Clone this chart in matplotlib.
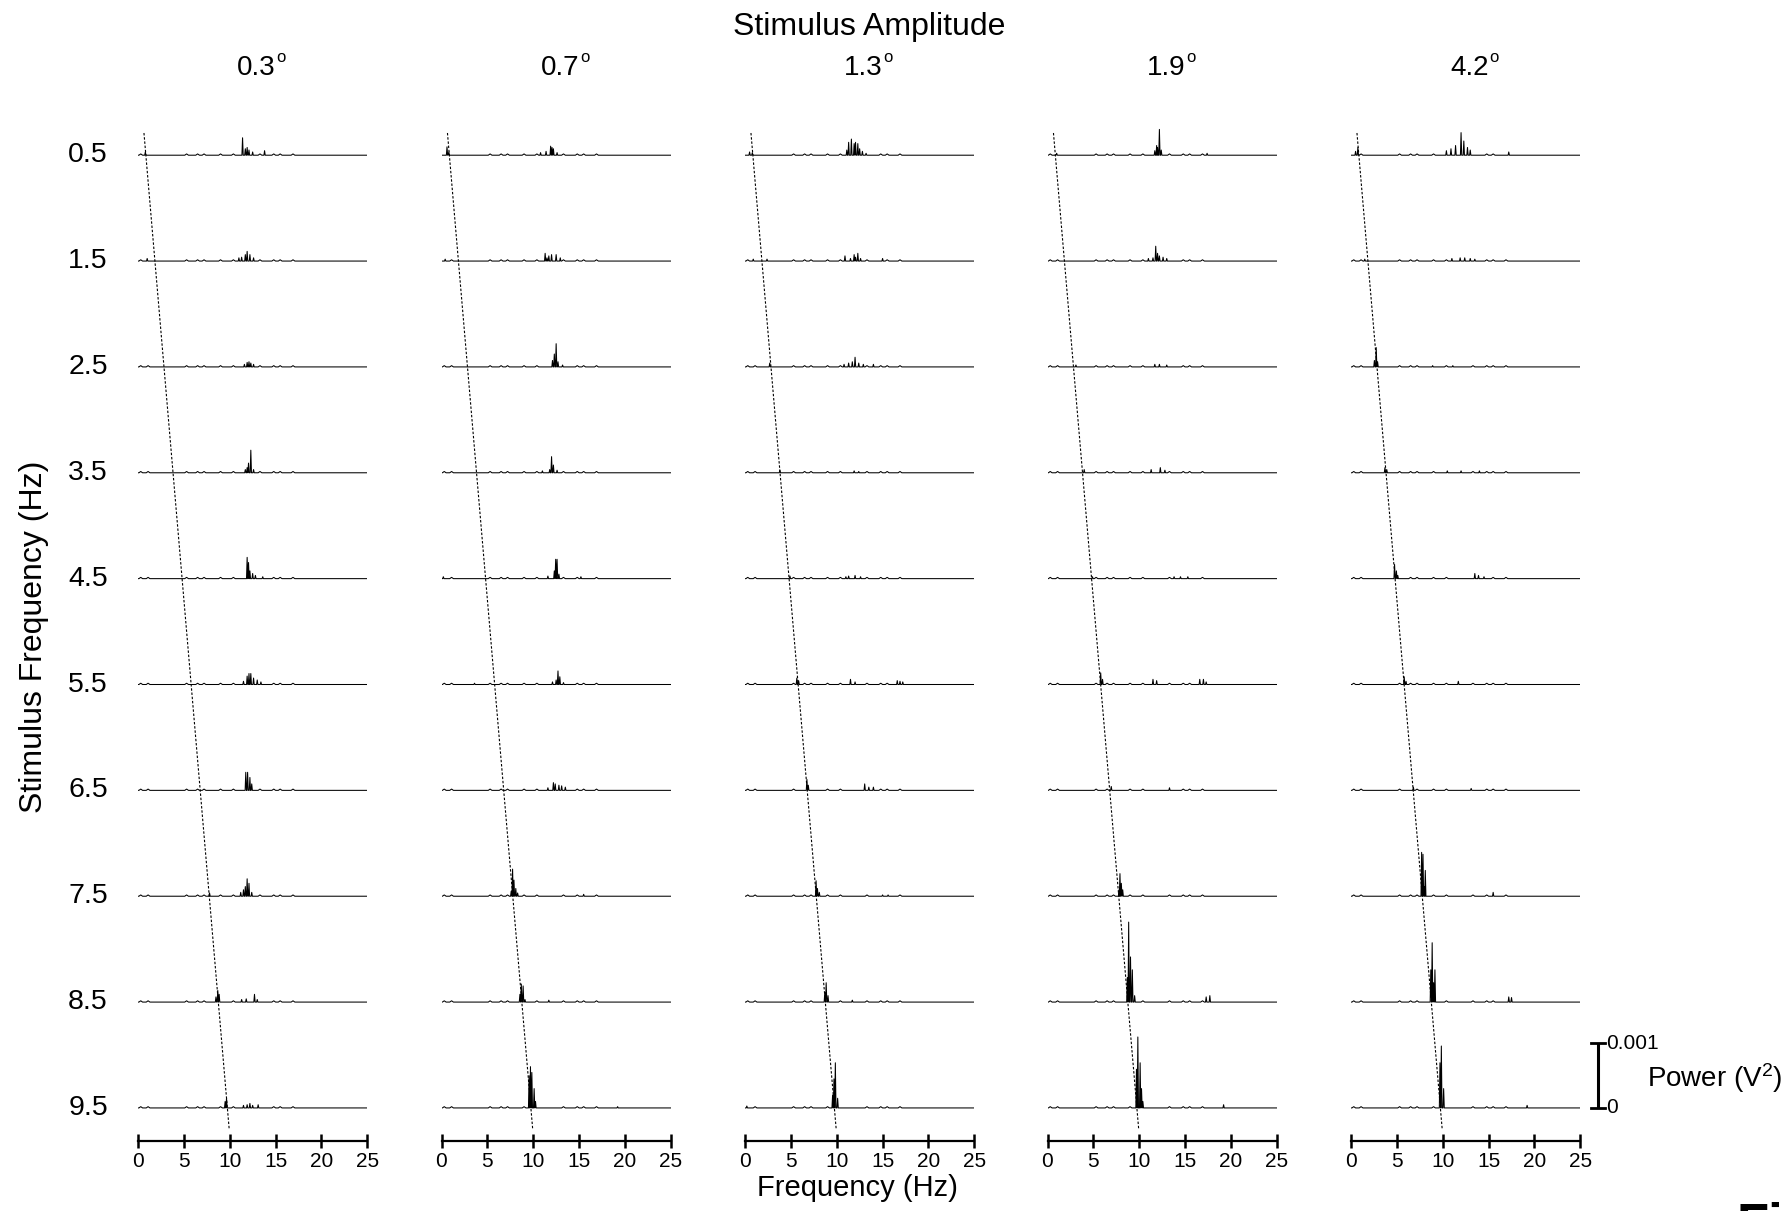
import matplotlib
matplotlib.use('Agg')
import matplotlib.pyplot as plt
import matplotlib.font_manager as fm
import numpy as np

# ---- data (power in units of 0.001 V^2) ----
amplitudes = ['0.3', '0.7', '1.3', '1.9', '4.2']
stim_hz = [0.5, 1.5, 2.5, 3.5, 4.5, 5.5, 6.5, 7.5, 8.5, 9.5]
freq_ticks = [0, 5, 10, 15, 20, 25]
dash_hz = [0.65, 9.95]
scale_bar = [0, 1]   # 0 .. 0.001 V^2
ripple_hz = [0.3, 1.1, 5.3, 6.5, 7.2, 9.0, 10.4, 13.3, 14.8, 15.5, 16.9]
ripple_h = 0.02

peaks_03 = [
    [(0.8, 0.05), (11.4, 0.27), (11.7, 0.10), (11.9, 0.12), (12.1, 0.08), (12.5, 0.05), (13.8, 0.07)],
    [(1.0, 0.04), (11.0, 0.05), (11.3, 0.06), (11.7, 0.10), (11.9, 0.15), (12.2, 0.10), (12.6, 0.05)],
    [(11.6, 0.04), (11.9, 0.07), (12.1, 0.08), (12.3, 0.06), (12.6, 0.04)],
    [(11.7, 0.05), (11.9, 0.08), (12.05, 0.15), (12.3, 0.35), (12.6, 0.05)],
    [(11.9, 0.33), (12.05, 0.25), (12.2, 0.12), (12.5, 0.08), (12.8, 0.05), (13.6, 0.03)],
    [(11.5, 0.05), (11.9, 0.13), (12.1, 0.17), (12.3, 0.17), (12.6, 0.10), (13.0, 0.07), (13.4, 0.04)],
    [(11.75, 0.28), (11.95, 0.28), (12.2, 0.20), (12.4, 0.10)],
    [(7.8, 0.05), (11.2, 0.06), (11.5, 0.10), (11.7, 0.15), (11.9, 0.27), (12.1, 0.20), (12.4, 0.06)],
    [(8.5, 0.08), (8.7, 0.18), (8.85, 0.12), (11.3, 0.04), (11.8, 0.05), (12.7, 0.12), (13.0, 0.04)],
    [(9.5, 0.10), (9.65, 0.15), (11.5, 0.04), (11.9, 0.05), (12.2, 0.07), (12.5, 0.04), (13.1, 0.05)],
]
peaks_07 = [
    [(0.6, 0.13), (0.8, 0.05), (10.8, 0.04), (11.4, 0.06), (11.9, 0.14), (12.05, 0.12), (12.2, 0.10), (12.6, 0.04)],
    [(0.4, 0.03), (11.3, 0.12), (11.5, 0.05), (11.7, 0.08), (12.0, 0.10), (12.5, 0.10), (12.95, 0.05)],
    [(12.1, 0.10), (12.3, 0.20), (12.5, 0.36), (12.7, 0.08), (13.2, 0.03)],
    [(11.0, 0.03), (11.8, 0.05), (12.0, 0.25), (12.2, 0.12), (12.6, 0.04)],
    [(0.2, 0.03), (11.6, 0.04), (12.3, 0.12), (12.45, 0.30), (12.6, 0.30), (12.8, 0.07), (15.2, 0.03)],
    [(3.6, 0.02), (12.1, 0.04), (12.5, 0.07), (12.7, 0.21), (12.9, 0.12), (13.3, 0.03)],
    [(11.6, 0.04), (12.2, 0.12), (12.4, 0.10), (12.8, 0.08), (13.1, 0.07), (13.5, 0.05)],
    [(7.6, 0.08), (7.75, 0.42), (7.9, 0.25), (8.1, 0.12), (8.3, 0.05), (15.5, 0.03)],
    [(8.55, 0.12), (8.7, 0.28), (8.9, 0.25), (9.1, 0.04), (11.7, 0.03)],
    [(9.55, 0.50), (9.7, 0.64), (9.85, 0.55), (10.1, 0.30), (10.25, 0.10), (19.2, 0.02)],
]
peaks_13 = [
    [(0.5, 0.05), (0.8, 0.04), (11.1, 0.08), (11.3, 0.20), (11.6, 0.25), (11.9, 0.18), (12.05, 0.20),
     (12.3, 0.18), (12.5, 0.10), (12.8, 0.06), (13.2, 0.03)],
    [(0.9, 0.03), (2.4, 0.03), (10.9, 0.08), (11.5, 0.04), (11.9, 0.10), (12.05, 0.06), (12.3, 0.12),
     (12.6, 0.04), (15.0, 0.04)],
    [(2.7, 0.06), (10.8, 0.04), (11.3, 0.06), (11.7, 0.08), (12.0, 0.15), (12.4, 0.06), (12.9, 0.04), (14.0, 0.04)],
    [(3.8, 0.04), (11.9, 0.03), (12.4, 0.02)],
    [(4.9, 0.04), (11.0, 0.03), (11.3, 0.04), (12.0, 0.05), (12.6, 0.03)],
    [(5.65, 0.10), (5.85, 0.06), (11.5, 0.08), (12.0, 0.04), (16.6, 0.06), (16.9, 0.05), (17.2, 0.04)],
    [(6.75, 0.17), (6.9, 0.08), (13.05, 0.10), (13.5, 0.05), (14.0, 0.05)],
    [(7.75, 0.24), (7.9, 0.12), (8.1, 0.06), (15.0, 0.02), (15.6, 0.02)],
    [(8.7, 0.15), (8.85, 0.30), (9.05, 0.10), (11.7, 0.03)],
    [(0.2, 0.03), (9.55, 0.20), (9.7, 0.45), (9.85, 0.70), (10.1, 0.15)],
]
peaks_19 = [
    [(1.0, 0.03), (11.7, 0.07), (11.9, 0.15), (12.0, 0.12), (12.2, 0.40), (12.4, 0.08), (17.4, 0.03)],
    [(11.0, 0.04), (11.5, 0.05), (11.8, 0.23), (12.0, 0.12), (12.2, 0.08), (12.6, 0.06), (13.0, 0.04)],
    [(3.1, 0.03), (11.7, 0.04), (12.2, 0.04), (13.0, 0.03)],
    [(4.0, 0.05), (11.3, 0.05), (12.3, 0.08), (12.8, 0.04)],
    [(4.9, 0.03), (13.8, 0.03), (14.5, 0.03), (15.3, 0.03)],
    [(5.8, 0.18), (6.0, 0.08), (11.5, 0.08), (11.9, 0.06), (16.6, 0.08), (17.0, 0.08), (17.3, 0.04)],
    [(6.95, 0.06), (13.3, 0.04)],
    [(7.8, 0.10), (7.9, 0.35), (8.05, 0.20), (8.2, 0.10)],
    [(8.7, 0.38), (8.85, 1.24), (9.05, 0.70), (9.25, 0.50), (9.5, 0.10), (17.3, 0.08), (17.7, 0.10)],
    [(9.7, 0.60), (9.85, 1.10), (10.1, 0.70), (10.25, 0.30), (10.4, 0.10), (19.2, 0.05)],
]
peaks_42 = [
    [(0.5, 0.06), (0.75, 0.12), (10.4, 0.07), (10.9, 0.10), (11.4, 0.15), (12.0, 0.35), (12.3, 0.22),
     (12.7, 0.12), (13.0, 0.08), (17.2, 0.05)],
    [(1.5, 0.03), (11.0, 0.04), (11.9, 0.05), (12.4, 0.05), (13.0, 0.04), (13.5, 0.03)],
    [(2.55, 0.10), (2.75, 0.30), (2.9, 0.08), (8.9, 0.02), (11.1, 0.02)],
    [(3.7, 0.08), (3.9, 0.05), (10.5, 0.03), (12.0, 0.03), (14.0, 0.03)],
    [(4.75, 0.22), (4.95, 0.12), (5.1, 0.05), (13.5, 0.08), (13.9, 0.05), (14.5, 0.03)],
    [(5.8, 0.12), (6.0, 0.05), (11.7, 0.05)],
    [(6.8, 0.05), (13.1, 0.03)],
    [(7.7, 0.68), (7.85, 0.65), (8.0, 0.15), (8.1, 0.40), (15.5, 0.06)],
    [(8.7, 0.50), (8.85, 0.92), (9.0, 0.30), (9.15, 0.50), (17.2, 0.08), (17.5, 0.07)],
    [(9.7, 0.70), (9.85, 0.96), (10.1, 0.30), (19.2, 0.04)],
]
spectra = [peaks_03, peaks_07, peaks_13, peaks_19, peaks_42]

# ---- fonts ----
names = set(f.name for f in fm.fontManager.ttflist)
main_font = 'Liberation Sans' if 'Liberation Sans' in names else 'DejaVu Sans'
narrow_font = 'Liberation Sans Narrow' if 'Liberation Sans Narrow' in names else main_font
plt.rcParams['font.family'] = main_font
plt.rcParams['mathtext.fontset'] = 'custom'
plt.rcParams['mathtext.rm'] = main_font
plt.rcParams['mathtext.it'] = main_font


def spectrum_line(peaks):
    # each peak drawn as a narrow spike, small ripples on the baseline
    feats = [(f, h, 0.07) for f, h in peaks]
    for f in ripple_hz:
        if all(abs(f - p) > 0.35 for p, _ in peaks):
            feats.append((f, ripple_h, 0.2))
    feats.sort()
    xs, ys = [0.0], [0.0]
    for f, h, w in feats:
        xs += [f - w, f, f + w]
        ys += [0.0, h, 0.0]
    xs.append(25.0)
    ys.append(0.0)
    return np.array(xs), np.array(ys)


# ---- layout (pixels of a 1789x1211 canvas) ----
W, H = 1789, 1211
fig = plt.figure(figsize=(W / 100, H / 100), dpi=100)
col_left = [138, 441.5, 745, 1047.5, 1351]
col_w = 229.3
ax_top, ax_bot = 100, 1141
ppu = 64.5           # px per 0.001 V^2
row0, row_step = 155.2, 105.86

def fx(x):
    return x / W

def fy(y):
    return 1 - y / H

axes = []
for c, amp in enumerate(amplitudes):
    ax = fig.add_axes([fx(col_left[c]), fy(ax_bot), col_w / W, (ax_bot - ax_top) / H])
    ax.set_xlim(0, 25)
    ax.set_ylim(0, (ax_bot - ax_top) / ppu)
    ax.patch.set_visible(False)
    for r, peaks in enumerate(spectra[c]):
        base = (ax_bot - (row0 + r * row_step)) / ppu
        xs, ys = spectrum_line(peaks)
        ax.plot(xs, base + ys, color='black', lw=0.75)
    y_dash = [(ax_bot - 133) / ppu, (ax_bot - 1130) / ppu]
    ax.plot(dash_hz, y_dash, color='black', lw=0.8, linestyle=(0, (2.2, 1.6)))
    for s in ['left', 'right', 'top']:
        ax.spines[s].set_visible(False)
    ax.spines['bottom'].set_linewidth(1.6)
    ax.set_xticks(freq_ticks)
    ax.set_yticks([])
    ax.tick_params(axis='x', direction='inout', length=10, width=1.8, pad=3, labelsize=15)
    for lab in ax.get_xticklabels():
        lab.set_fontfamily(narrow_font)
    xc = col_left[c] + col_w / 2
    fig.text(fx(xc + 23), fy(68), amp, ha='right', va='center', fontsize=20)
    fig.text(fx(xc + 24), fy(58), 'o', ha='left', va='center', fontsize=12)
    axes.append(ax)

# row labels
for r, hz in enumerate(stim_hz):
    fig.text(fx(88), fy(row0 + r * row_step), str(hz), ha='center', va='center', fontsize=20.5)

fig.text(fx(869), fy(27), 'Stimulus Amplitude', ha='center', va='center', fontsize=23)
fig.text(fx(34), fy(637), 'Stimulus Frequency (Hz)', ha='center', va='center',
         rotation=90, fontsize=23)
fig.text(fx(857), fy(1188), 'Frequency (Hz)', ha='center', va='center', fontsize=21)

# scale bar on the last column
ax = axes[-1]
base = (ax_bot - (row0 + 9 * row_step)) / ppu
xb = (1598 - col_left[-1]) / col_w * 25
cap = 7 / col_w * 25
ax.plot([xb, xb], [base + scale_bar[0], base + scale_bar[1]], color='black', lw=2.2,
        clip_on=False, solid_capstyle='butt')
for v in scale_bar:
    ax.plot([xb - cap, xb + cap], [base + v, base + v], color='black', lw=2.0, clip_on=False)
xt = (1606 - col_left[-1]) / col_w * 25
ax.text(xt, base + scale_bar[1], '0.001', ha='left', va='center', fontsize=15,
        fontfamily=narrow_font, clip_on=False)
ax.text(xt, base + scale_bar[0], '0', ha='left', va='center', fontsize=15,
        fontfamily=narrow_font, clip_on=False)
fig.text(fx(1647), fy(1078), 'Power (V$^{2}$)', ha='left', va='center', fontsize=20)

# figure label that the reference shows cut off at the bottom-right corner
fig.text(fx(1736), fy(1202), 'Fig', ha='left', va='top', fontsize=38, fontweight='bold')

fig.savefig('out.png', dpi=100)
